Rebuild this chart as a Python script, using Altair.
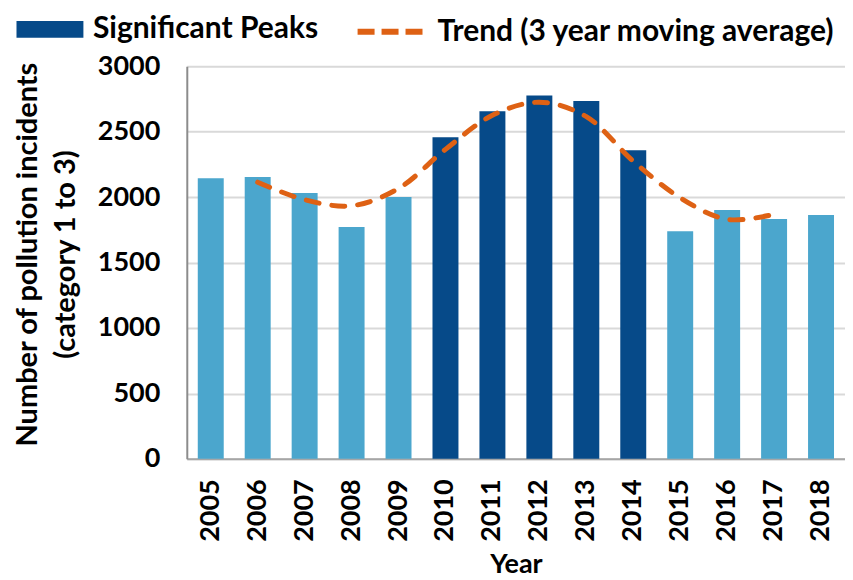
import altair as alt
import pandas as pd

years = ["2005", "2006", "2007", "2008", "2009", "2010", "2011",
         "2012", "2013", "2014", "2015", "2016", "2017", "2018"]
incidents = [2145, 2153, 2031, 1771, 2000, 2458, 2656,
             2776, 2735, 2359, 1740, 1901, 1832, 1863]
peak_years = ["2010", "2011", "2012", "2013", "2014"]

trend_years = ["2006", "2007", "2008", "2009", "2010", "2011",
               "2012", "2013", "2014", "2015", "2016", "2017"]
trend_values = [2114, 1980, 1934, 2066, 2365, 2625,
                2725, 2615, 2275, 1995, 1830, 1868]

LIGHT = "#4BA6CD"
DARK = "#064A89"
ORANGE = "#DE6114"
FONT = "Lato"

bars_df = pd.DataFrame({
    "Year": years,
    "Incidents": incidents,
    "Group": ["Significant Peaks" if y in peak_years else "Normal" for y in years],
})
trend_df = pd.DataFrame({
    "Year": trend_years,
    "Trend": trend_values,
    "Series": ["Trend (3 year moving average)"] * len(trend_years),
})

x_enc = alt.X(
    "Year:N",
    sort=years,
    scale=alt.Scale(domain=years, paddingInner=0.447, paddingOuter=0.234),
    axis=alt.Axis(
        title="Year", labelAngle=-90, labelFontSize=27, labelFontWeight="bold",
        labelFont=FONT, titleFont=FONT, titleFontSize=27, titleFontWeight="bold",
        ticks=False, labelPadding=20, domainColor="#a6a6a6", domainWidth=2,
        labelColor="black", titleColor="black", titlePadding=10,
    ),
)

y_scale = alt.Scale(domain=[0, 3000])
y_axis = alt.Axis(
    title=["Number of pollution incidents", "(category 1 to 3)"],
    values=[0, 500, 1000, 1500, 2000, 2500, 3000], format="d",
    labelFontSize=27, labelFontWeight="bold", labelFont=FONT,
    titleFont=FONT, titleFontSize=29, titleFontWeight="bold",
    titleLineHeight=38, ticks=False, labelPadding=27, titlePadding=17,
    titleY=188,
    domainColor="#8c8c8c", domainWidth=2, gridColor="#d9d9d9", gridWidth=2,
    labelColor="black", titleColor="black",
)

bars = alt.Chart(bars_df).mark_bar().encode(
    x=x_enc,
    y=alt.Y("Incidents:Q", scale=y_scale, axis=y_axis),
    color=alt.Color(
        "Group:N",
        scale=alt.Scale(domain=["Normal", "Significant Peaks"], range=[LIGHT, DARK]),
        legend=alt.Legend(
            values=["Significant Peaks"], title=None, orient="none",
            legendX=-154, legendY=-54, labelFontSize=30, labelFont=FONT,
            labelFontWeight="bold", labelColor="black", labelLimit=0,
            symbolType="M-2,-0.5H2V0.5H-2Z", symbolSize=1122,
            symbolStrokeWidth=0, labelOffset=26, padding=0,
        ),
    ),
)

line = alt.Chart(trend_df).mark_line(
    interpolate="catmull-rom", strokeWidth=5, strokeDash=[13, 13], strokeCap="round",
).encode(
    x=alt.X("Year:N", sort=years),
    y=alt.Y("Trend:Q", scale=y_scale),
    stroke=alt.Stroke(
        "Series:N",
        scale=alt.Scale(range=[ORANGE]),
        legend=alt.Legend(
            title=None, orient="none", legendX=184, legendY=-54,
            labelFontSize=30, labelFont=FONT, labelFontWeight="bold",
            labelColor="black", labelLimit=0, symbolType="M-2,0H2",
            symbolSize=1056, symbolStrokeWidth=6, symbolDash=[17, 7],
            labelOffset=28, padding=0,
        ),
    ),
)

chart = alt.layer(bars, line).resolve_scale(color="independent").properties(
    width=659, height=393,
    padding={"left": 179, "top": 58, "right": 0, "bottom": 120},
    autosize=alt.AutoSizeParams(type="none"),
).configure_view(stroke=None)

chart.save("out.html", embed_options={"renderer": "svg", "actions": False})
